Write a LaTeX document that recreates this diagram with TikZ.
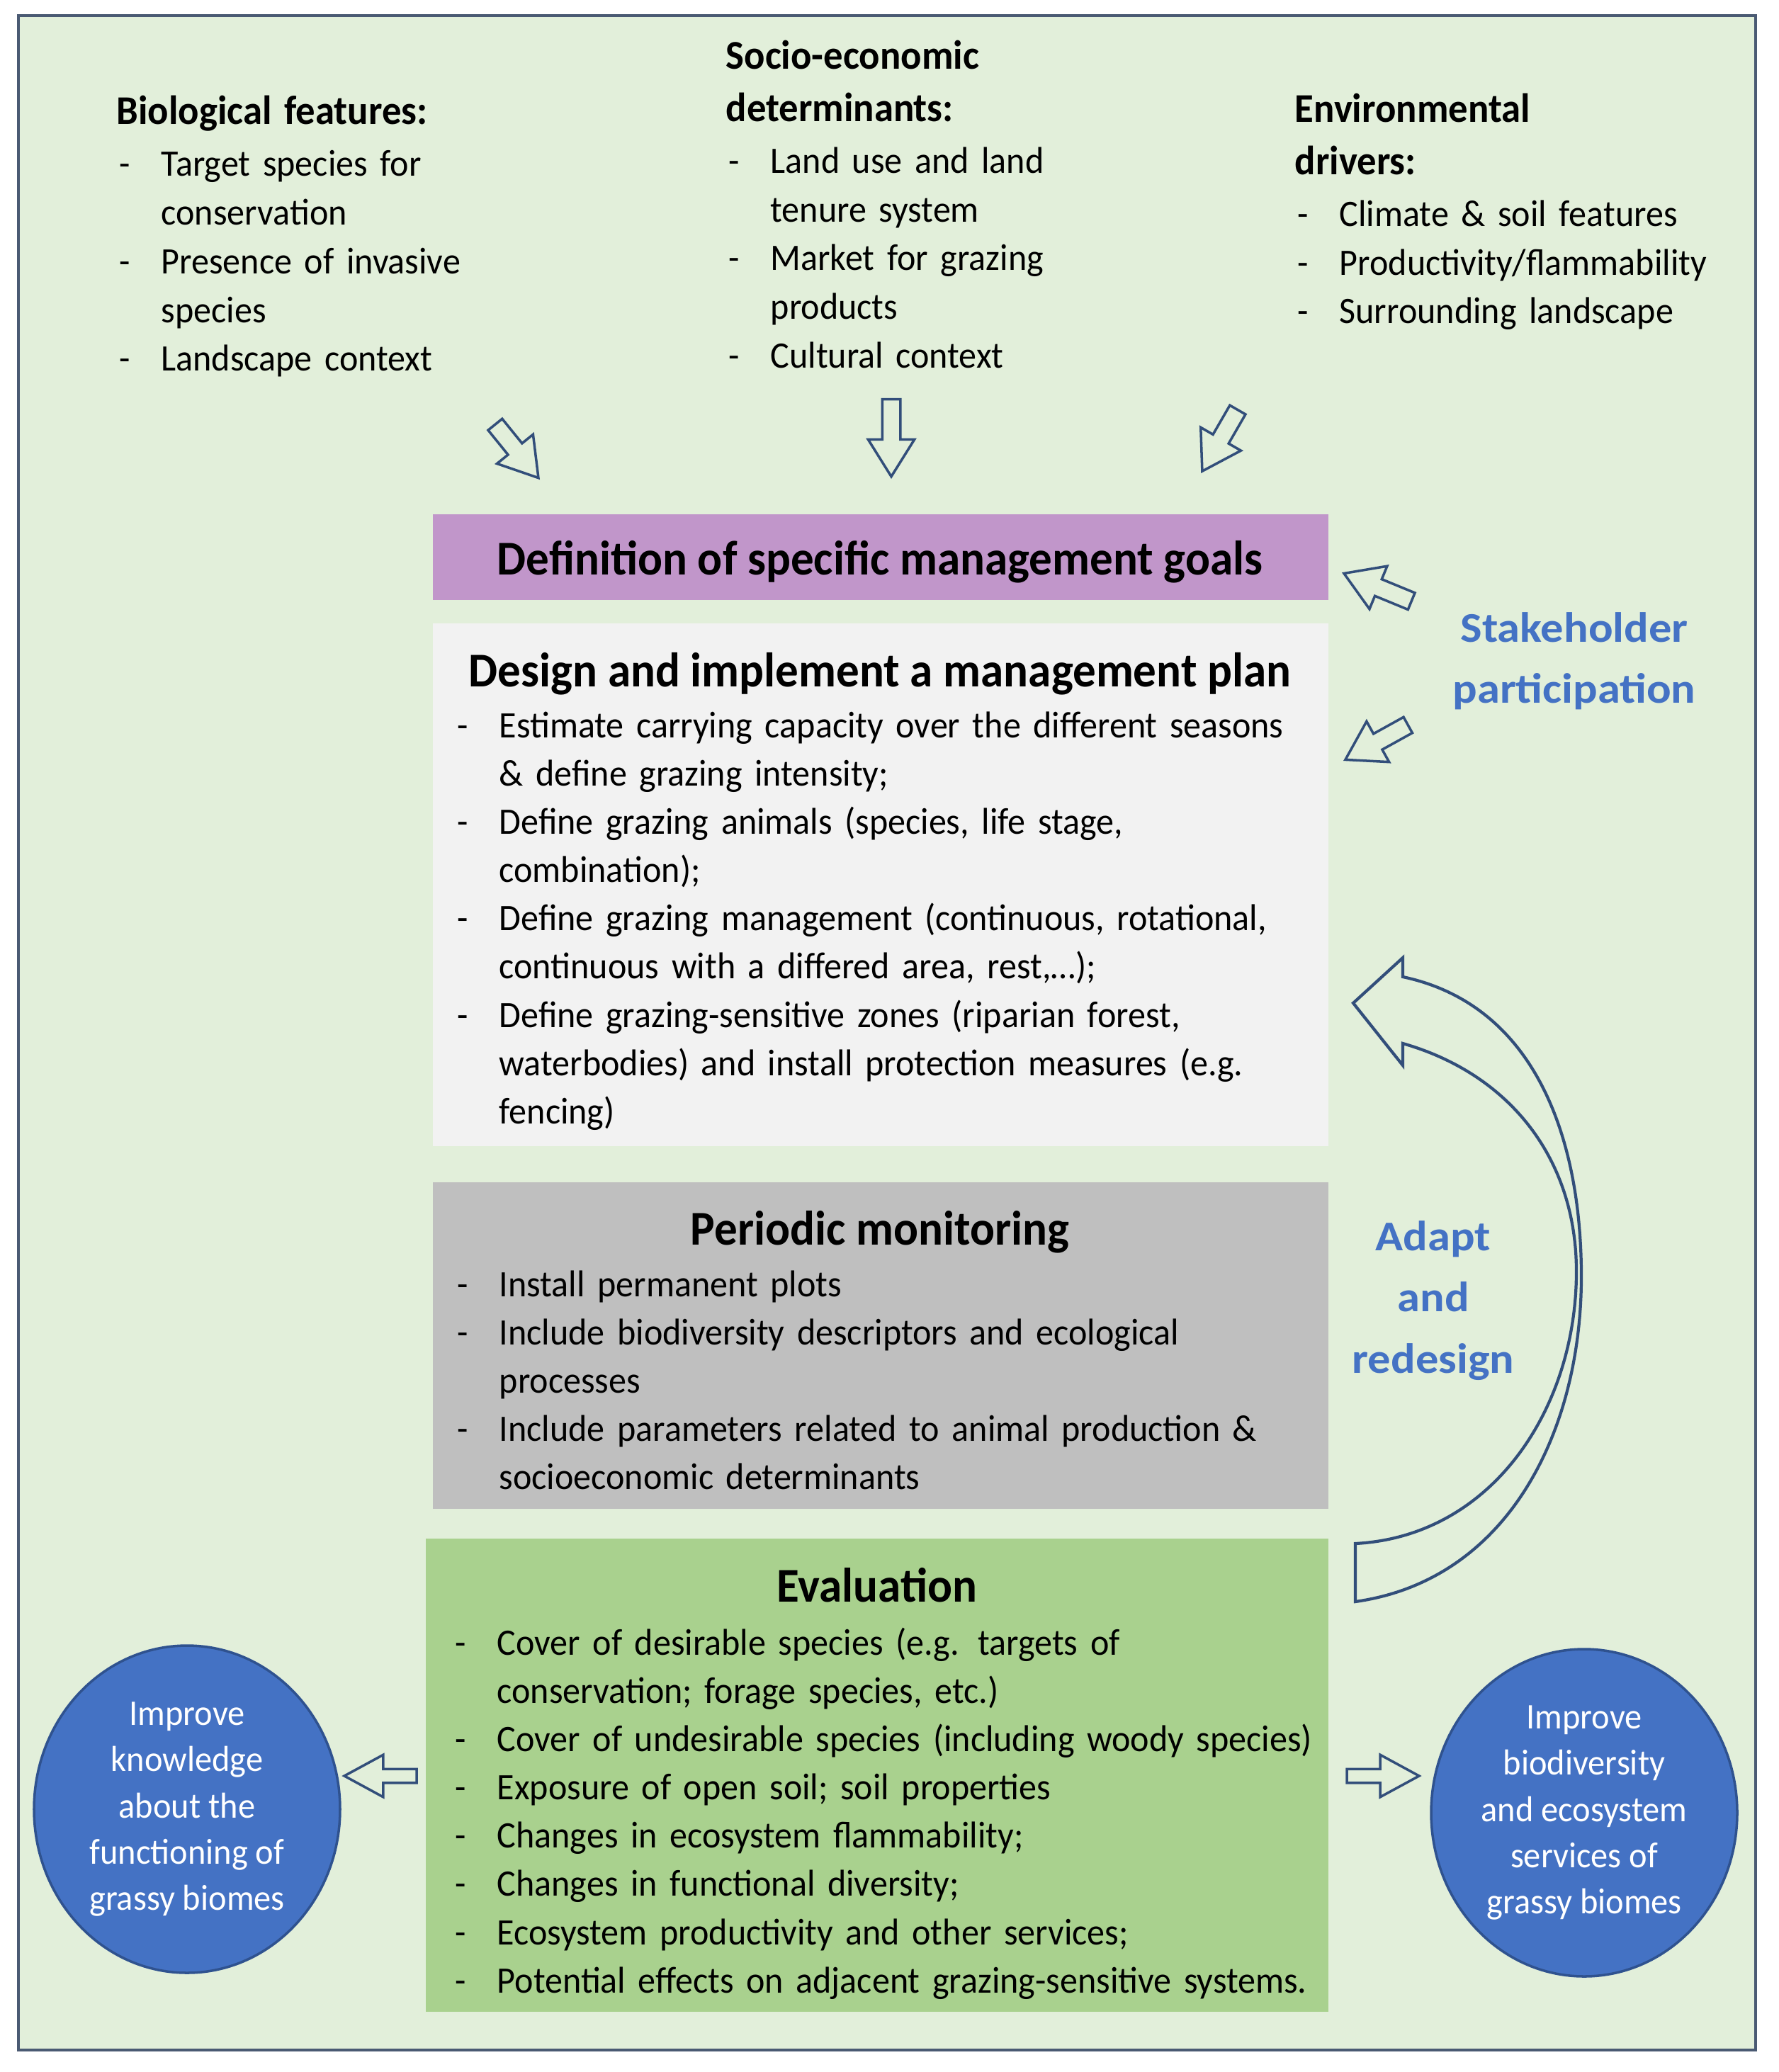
\documentclass[tikz,border=0pt]{standalone}
\usepackage{fontspec}
\setmainfont{Carlito}[FakeStretch=0.95]
\newfontfamily\bluefont{Carlito}[FakeStretch=1.08]
\usetikzlibrary{positioning}
\usetikzlibrary{shapes.geometric}
\usetikzlibrary{shapes.arrows}

\definecolor{bgreen}{RGB}{226,239,218}
\definecolor{framec}{RGB}{74,90,115}
\definecolor{goalc}{RGB}{193,150,202}
\definecolor{planc}{RGB}{242,242,242}
\definecolor{monc}{RGB}{191,191,191}
\definecolor{evalc}{RGB}{169,209,142}
\definecolor{circc}{RGB}{68,114,196}
\definecolor{circl}{RGB}{47,82,143}
\definecolor{arrc}{RGB}{50,78,122}

\newlength{\dashind}
\setlength{\dashind}{0.63cm}
\newcommand{\fitem}{\hangindent=\dashind\hangafter=1\noindent\makebox[\dashind][l]{\hspace{1pt}-}}
\newcommand{\ditem}{\par\fitem}
\newcommand{\colhead}[1]{{\fontsize{16.4}{21}\selectfont\bfseries #1\par}\vspace{1pt}}

\tikzset{panel/.style={anchor=north west, inner sep=0pt, minimum width=12.64cm}}
\tikzset{lst/.style={anchor=base west, text width=12.8cm, inner sep=0pt, align=left, font=\fontsize{15}{19.4}\selectfont}}
\tikzset{ttl/.style={anchor=base, inner sep=0pt, font=\fontsize{19.5}{23}\selectfont\bfseries}}
\tikzset{bluetxt/.style={align=center, inner sep=0pt, text=circc, font=\bluefont\bfseries\fontsize{17}{24.6}\selectfont}}
\tikzset{blob/.style={ellipse, draw=circl, line width=1pt, fill=circc, text=white, align=center, inner sep=0pt, minimum width=4.32cm, minimum height=4.62cm, font=\fontsize{14.5}{18.6}\selectfont}}
\tikzset{blockarr/.style={single arrow, draw=arrc, fill=bgreen, line width=1pt, inner sep=0.11cm, minimum width=0.6cm, single arrow head extend=0.2cm, single arrow tip angle=64}}

\begin{document}
\begin{tikzpicture}
\useasboundingbox (0,0) rectangle (25.1,-29.25);
\draw[draw=framec, line width=1.2pt, fill=bgreen] (0.26,-0.22) rectangle (24.78,-28.94);

% top columns
\node[lst, text width=6cm, font=\fontsize{15}{19.6}\selectfont] (bio) at (1.64,-1.76) {\colhead{Biological features:}
\fitem Target species for\newline conservation
\ditem Presence of invasive\newline species
\ditem Landscape context\par};
\node[lst, text width=6cm, font=\fontsize{15}{19.6}\selectfont] (soc) at (10.24,-0.98) {\colhead{Socio-economic\newline determinants:}
\fitem Land use and land\newline tenure system
\ditem Market for grazing\newline products
\ditem Cultural context\par};
\node[lst, text width=6cm, font=\fontsize{15}{19.6}\selectfont] (env) at (18.27,-1.73) {\colhead{Environmental\newline drivers:}
\fitem Climate \& soil features
\ditem Productivity/flammability
\ditem Surrounding landscape\par};

\node[blockarr, minimum height=0.97cm, rotate=-51] (abio) at (7.23,-6.29) {};
\node[blockarr, minimum height=1.09cm, rotate=-90] (asoc) at (12.58,-6.08) {};
\node[blockarr, minimum height=1.0cm, rotate=-120] (aenv) at (17.27,-6.13) {};

% boxes
\node[panel, fill=goalc, minimum height=1.21cm] (goal) at (6.10,-7.25) {};
\node[panel, fill=planc, minimum height=7.38cm] (plan) at (6.10,-8.79) {};
\node[panel, fill=monc, minimum height=4.61cm] (mon) at (6.10,-16.68) {};
\node[panel, fill=evalc, minimum width=12.74cm, minimum height=6.68cm] (eval) at (6.00,-21.71) {};

\node[ttl] (goalt) at (12.42,-8.11) {Definition of specific management goals};

\node[ttl] (plant) at (12.42,-9.69) {Design and implement a management plan};
\node[lst] (planl) at (6.41,-10.41) {\fitem Estimate carrying capacity over the different seasons\newline \& define grazing intensity;
\ditem Define grazing animals (species, life stage,\newline combination);
\ditem Define grazing management (continuous, rotational,\newline continuous with a differed area, rest,…);
\ditem Define grazing-sensitive zones (riparian forest,\newline waterbodies) and install protection measures (e.g.\newline fencing)\par};

\node[ttl] (mont) at (12.42,-17.57) {Periodic monitoring};
\node[lst] (monl) at (6.41,-18.30) {\fitem Install permanent plots
\ditem Include biodiversity descriptors and ecological\newline processes
\ditem Include parameters related to animal production \&\newline socioeconomic determinants\par};

\node[ttl] (evalt) at (12.38,-22.61) {Evaluation};
\node[lst] (evall) at (6.38,-23.36) {\fitem Cover of desirable species (e.g. targets of\newline conservation; forage species, etc.)
\ditem Cover of undesirable species (including woody species)
\ditem Exposure of open soil; soil properties
\ditem Changes in ecosystem flammability;
\ditem Changes in functional diversity;
\ditem Ecosystem productivity and other services;
\ditem Potential effects on adjacent grazing-sensitive systems.\par};

% stakeholders
\node[bluetxt] (stake) at (22.22,-9.33) {Stakeholder\\participation};
\node[blockarr, minimum height=1.03cm, rotate=157.6] (ast1) at (19.54,-8.33) {};
\node[blockarr, minimum height=1.01cm, rotate=-151] (ast2) at (19.52,-10.43) {};

% adapt loop
\node[bluetxt] (adapt) at (20.23,-18.36) {Adapt\\and\\redesign};
\coordinate (t1) at (19.13,-21.79);
\coordinate (t2) at (19.13,-22.61);
\coordinate (r1) at (22.25,-17.95);
\coordinate (r2) at (22.32,-18.02);
\draw[draw=arrc, line width=1.2pt]
  (t1) to[out=3, in=-90] (r1) to[out=90, in=-16] (19.80,-14.73)
  -- (19.80,-15.04) -- (19.10,-14.16) -- (19.80,-13.52) -- (19.80,-13.79)
  to[out=-12, in=90] (r2) to[out=-90, in=8] (t2) -- cycle;

% outcomes
\node[blob] (know) at (2.64,-25.54) {Improve\\knowledge\\about the\\functioning of\\grassy biomes};
\node[blob] (biod) at (22.36,-25.59) {Improve\\biodiversity\\and ecosystem\\services of\\grassy biomes};
\node[blockarr, minimum width=0.54cm, inner sep=0.08cm, single arrow tip angle=57, minimum height=1.02cm, rotate=180] (aknow) at (5.46,-25.07) {};
\node[blockarr, minimum width=0.54cm, inner sep=0.08cm, single arrow tip angle=57, minimum height=1.02cm] (abiod) at (19.43,-25.07) {};
\end{tikzpicture}
\end{document}
